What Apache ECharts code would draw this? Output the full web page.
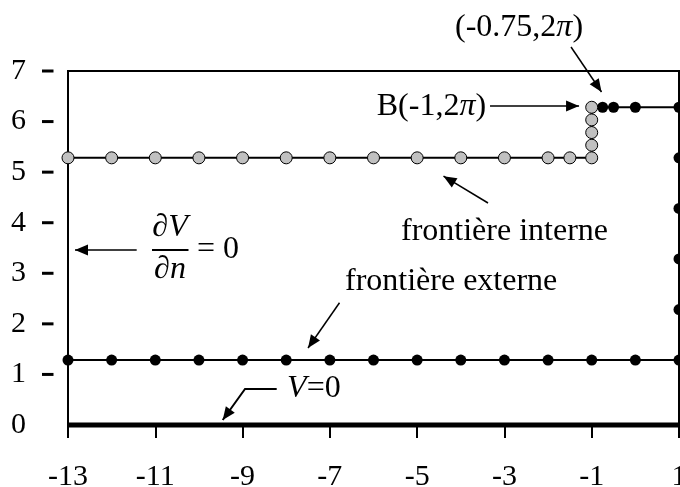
<!DOCTYPE html>
<html><head><meta charset="utf-8">
<script src="https://cdn.jsdelivr.net/npm/echarts@6/dist/echarts.min.js"></script>
<style>html,body{margin:0;padding:0;background:#fff}#c{width:680px;height:487px}</style>
</head><body><div id="c"></div>
<script>
// ---- data ----
const innerX = [-13,-12,-11,-10,-9,-8,-7,-6,-5,-4,-3,-2,-1.5,-1,-1,-1,-1,-1];
const innerY = [5.283,5.283,5.283,5.283,5.283,5.283,5.283,5.283,5.283,5.283,5.283,5.283,5.283,5.283,5.533,5.783,6.033,6.283];
const outerX = [-0.75,-0.5,0,1,1,1,1,1,1,0,-1,-2,-3,-4,-5,-6,-7,-8,-9,-10,-11,-12,-13];
const outerY = [6.283,6.283,6.283,6.283,5.283,4.283,3.283,2.283,1.283,1.283,1.283,1.283,1.283,1.283,1.283,1.283,1.283,1.283,1.283,1.283,1.283,1.283,1.283];
const baseX = [-13,1];
const baseY = [0,0];
const xTickLabels = [-13,-11,-9,-7,-5,-3,-1,1];
const yTickLabels = [0,1,2,3,4,5,6,7];

// annotation anchors (data coordinates)
const arrowLines = [
  [[-1.474,7.475],[-0.775,6.585]],
  [[-3.33,6.31],[-1.29,6.31]],
  [[-3.376,4.39],[-4.396,4.92]],
  [[-6.779,2.418],[-7.5,1.523]],
  [[-11.426,3.46],[-12.84,3.46]]
];
const vLeader = [[-8.218,0.712],[-8.944,0.712],[-9.455,0.099]];

const FONT = 'Liberation Serif';
const zip = (a,b) => a.map((v,i)=>[v,b[i]]);

const chart = echarts.init(document.getElementById('c'), null, {renderer:'canvas'});
const option = {
  animation:false,
  backgroundColor:'#fff',
  grid:{left:68,right:1,top:71,bottom:62,show:true,borderColor:'#000',borderWidth:2,
        backgroundColor:'transparent',outerBoundsMode:'none',containLabel:false},
  xAxis:{type:'value',min:-13,max:1,interval:2,offset:11,
    axisLine:{show:false},splitLine:{show:false},
    axisTick:{show:true,length:13,lineStyle:{color:'#000',width:2}},
    axisLabel:{fontFamily:FONT,fontSize:30,color:'#000',margin:26,showMaxLabel:true,showMinLabel:true,hideOverlap:false}
  },
  yAxis:{type:'value',min:0,max:7,interval:1,
    axisLine:{show:false},splitLine:{show:false},
    axisTick:{show:false},
    axisLabel:{color:'#000',margin:14.5,
      formatter:v => v===0 ? '{n|0}{g|}{e|}' : '{n|'+v+'}{g|}{t|}',
      rich:{
        n:{fontFamily:FONT,fontSize:30,color:'#000',verticalAlign:'middle'},
        g:{width:16,height:3},
        t:{width:11.5,height:3,backgroundColor:'#000',verticalAlign:'middle'},
        e:{width:11.5,height:3}
      }}
  },
  series:[
    {type:'line',data:zip(baseX,baseY),symbol:'none',lineStyle:{color:'#000',width:5},z:3,clip:false},
    {type:'line',data:zip(outerX,outerY),symbol:'circle',symbolSize:11,
      lineStyle:{color:'#000',width:2},itemStyle:{color:'#000'},z:4,clip:false},
    {type:'line',data:zip(innerX,innerY),symbol:'circle',symbolSize:12,
      lineStyle:{color:'#000',width:2},itemStyle:{color:'#c0c0c0',borderColor:'#000',borderWidth:1},z:5}
  ]
};
chart.setOption(option);

const P = p => chart.convertToPixel({gridIndex:0}, p);
const g = [];
function head(tip, from, len=13, half=5.5){
  const dx=tip[0]-from[0], dy=tip[1]-from[1], d=Math.hypot(dx,dy);
  const ux=dx/d, uy=dy/d, bx=tip[0]-ux*len, by=tip[1]-uy*len;
  g.push({type:'polygon',shape:{points:[tip,[bx-uy*half,by+ux*half],[bx+uy*half,by-ux*half]]},style:{fill:'#000'},z:20});
}
arrowLines.forEach(([a,b])=>{
  const pa=P(a), pb=P(b);
  g.push({type:'line',shape:{x1:pa[0],y1:pa[1],x2:pb[0],y2:pb[1]},style:{stroke:'#000',lineWidth:1.5},z:20});
  head(pb,pa);
});
const vl = vLeader.map(P);
g.push({type:'polyline',shape:{points:vl},style:{stroke:'#000',lineWidth:2,fill:null},z:20});
head(vl[2],vl[1]);

const TS = 32;
function txt(p, text, align, rich){
  const q=P(p);
  g.push({type:'text',x:q[0],y:q[1],z:21,style:{text:text,fontFamily:FONT,fontSize:TS,fill:'#000',align:align,verticalAlign:'middle',rich:rich||{}}});
}
const it = {fontFamily:FONT,fontSize:TS,fontStyle:'italic',fill:'#000'};
txt([-2.665,7.85],'(-0.75,2{i|π})','center',{i:it});
txt([-3.42,6.3],'B(-1,2{i|π})','right',{i:it});
txt([-5.37,3.82],'frontière interne','left');
txt([-6.653,2.83],'frontière externe','left');
txt([-7.98,0.712],'{i|V}=0','left',{i:it});
txt([-10.663,3.896],'{i|∂V}','center',{i:it});
txt([-10.663,3.065],'{i|∂n}','center',{i:it});
txt([-10.044,3.46],'= 0','left');
const b1=P([-11.075,3.46]), b2=P([-10.239,3.46]);
g.push({type:'line',shape:{x1:b1[0],y1:b1[1],x2:b2[0],y2:b2[1]},style:{stroke:'#000',lineWidth:2},z:20});
chart.setOption({graphic:g});
</script></body></html>
